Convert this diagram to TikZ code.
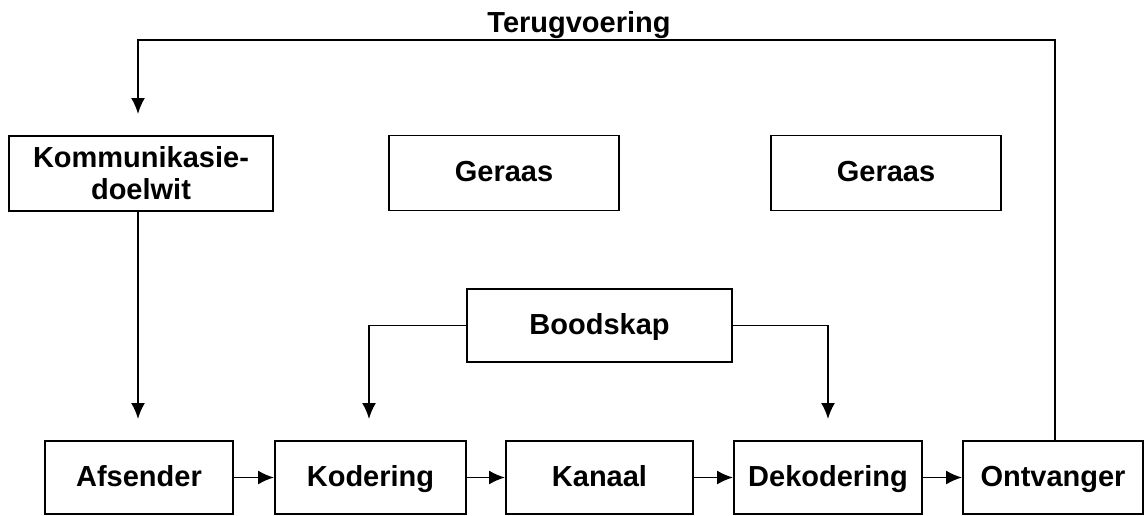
\documentclass[tikz,border=0pt]{standalone}
\usepackage{fontspec}
\setmainfont{Liberation Sans}
\usetikzlibrary{arrows.meta}
\begin{document}
\begin{tikzpicture}[x=1pt,y=-1pt,
  boxbase/.style={draw, line width=1.9pt, rectangle, inner sep=0pt, align=center,
    font=\fontsize{29}{32}\selectfont\bfseries},
  box/.style={boxbase, text height=23pt, text depth=6pt},
  arr/.style={line width=1.9pt, -{Latex[length=16pt,width=14pt]}}]
\useasboundingbox (0,0) rectangle (1145,515);
\node[boxbase, minimum width=264pt, minimum height=75pt] (komm) at (141,173.5) {Kommunikasie-\\doelwit};
\node[box, minimum width=230pt, minimum height=75pt] (ger1) at (504,173) {Geraas};
\node[box, minimum width=230pt, minimum height=75pt] (ger2) at (886,173) {Geraas};
\node[box, minimum width=265pt, minimum height=73pt] (bood) at (599.5,325.5) {Boodskap};
\node[box, minimum width=188pt, minimum height=73pt] (afs) at (139,477.5) {Afsender};
\node[box, minimum width=191pt, minimum height=73pt] (kod) at (370.5,477.5) {Kodering};
\node[box, minimum width=187pt, minimum height=73pt] (kan) at (599.5,477.5) {Kanaal};
\node[box, minimum width=188pt, minimum height=73pt] (dek) at (828,477.5) {Dekodering};
\node[box, minimum width=180pt, minimum height=73pt] (ont) at (1053,477.5) {Ontvanger};
\node[font=\fontsize{29}{32}\selectfont\bfseries, anchor=base] (teru) at (579,32) {Terugvoering};
\coordinate (fbA) at (1055,40);
\coordinate (fbB) at (138,40);
\coordinate (fbEnd) at (138,114);
\coordinate (kEnd) at (138,419);
\coordinate (bL) at (369,325.5);
\coordinate (bLEnd) at (369,419);
\coordinate (bR) at (828,325.5);
\coordinate (bREnd) at (828,419);
\draw[arr] (afs) -- (kod);
\draw[arr] (kod) -- (kan);
\draw[arr] (kan) -- (dek);
\draw[arr] (dek) -- (ont);
\draw[arr] (ont.north -| fbA) -- (fbA) -- (fbB) -- (fbEnd);
\draw[arr] (komm.south -| kEnd) -- (kEnd);
\draw[arr] (bood.west) -- (bL) -- (bLEnd);
\draw[arr] (bood.east) -- (bR) -- (bREnd);
\end{tikzpicture}
\end{document}
